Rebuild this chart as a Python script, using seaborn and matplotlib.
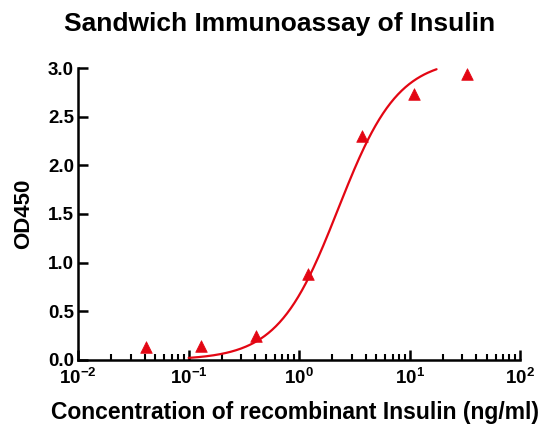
import matplotlib
matplotlib.use('Agg')
import matplotlib.pyplot as plt
import matplotlib.ticker as mticker
import numpy as np
import pandas as pd
import seaborn as sns

conc = [0.041, 0.13, 0.41, 1.2, 3.7, 11, 33]
od450 = [0.13, 0.14, 0.25, 0.88, 2.30, 2.73, 2.94]

# 4PL fit parameters (bottom, top, EC50, hill), estimated from the drawn curve
bottom, top, ec50, hill = 0.0, 3.1, 2.25, 1.6
fit_range = (0.1, 17.5)

sns.set_style('white')
plt.rcParams['font.family'] = ['Liberation Sans', 'DejaVu Sans']
plt.rcParams['font.weight'] = 'bold'
plt.rcParams['text.color'] = 'black'
plt.rcParams['axes.labelcolor'] = 'black'

fit_x = np.logspace(np.log10(fit_range[0]), np.log10(fit_range[1]), 200)
fit_y = bottom + (top - bottom) / (1 + (ec50 / fit_x) ** hill)
fit_df = pd.DataFrame({'x': fit_x, 'y': fit_y})
pts_df = pd.DataFrame({'x': conc, 'y': od450})

fig = plt.figure(figsize=(5.54, 4.28), dpi=100)
ax = fig.add_axes([0.141, 0.159, 0.798, 0.682])

red = '#e30613'
sns.lineplot(data=fit_df, x='x', y='y', color=red, linewidth=1.6, ax=ax)
sns.scatterplot(data=pts_df, x='x', y='y', color=red, marker='^', s=70,
                edgecolor=red, linewidth=0.5, ax=ax, zorder=3, clip_on=False)

ax.set_xscale('log')
ax.set_xlim(1e-2, 1e2)
ax.set_ylim(0, 3.0)
ax.set_yticks([0, 0.5, 1.0, 1.5, 2.0, 2.5, 3.0])
ax.yaxis.set_major_formatter(mticker.FormatStrFormatter('%.1f'))
ax.xaxis.set_major_locator(mticker.LogLocator(base=10, numticks=10))
ax.xaxis.set_minor_locator(mticker.LogLocator(base=10, subs=np.arange(2, 10), numticks=10))

for side in ['top', 'right']:
    ax.spines[side].set_visible(False)
for side in ['left', 'bottom']:
    ax.spines[side].set_linewidth(1.8)
    ax.spines[side].set_color('black')

ax.tick_params(axis='both', which='major', direction='in', length=7, width=1.8,
               labelsize=13.5, colors='black', pad=3)
ax.tick_params(axis='x', which='minor', direction='in', length=4, width=1.5,
               bottom=True, colors='black')
ax.tick_params(axis='x', which='major', pad=6)
ax.tick_params(axis='y', left=True)
ax.tick_params(axis='x', bottom=True)

ax.set_title('Sandwich Immunoassay of Insulin', fontsize=19, fontweight='bold',
             pad=27, x=0.455, color='black')
ax.set_xlabel('Concentration of recombinant Insulin (ng/ml)', fontsize=16.5,
              fontweight='bold', labelpad=9, x=0.49)
ax.set_ylabel('OD450', fontsize=16, fontweight='bold', labelpad=10)

fig.savefig('out.png', dpi=100)
